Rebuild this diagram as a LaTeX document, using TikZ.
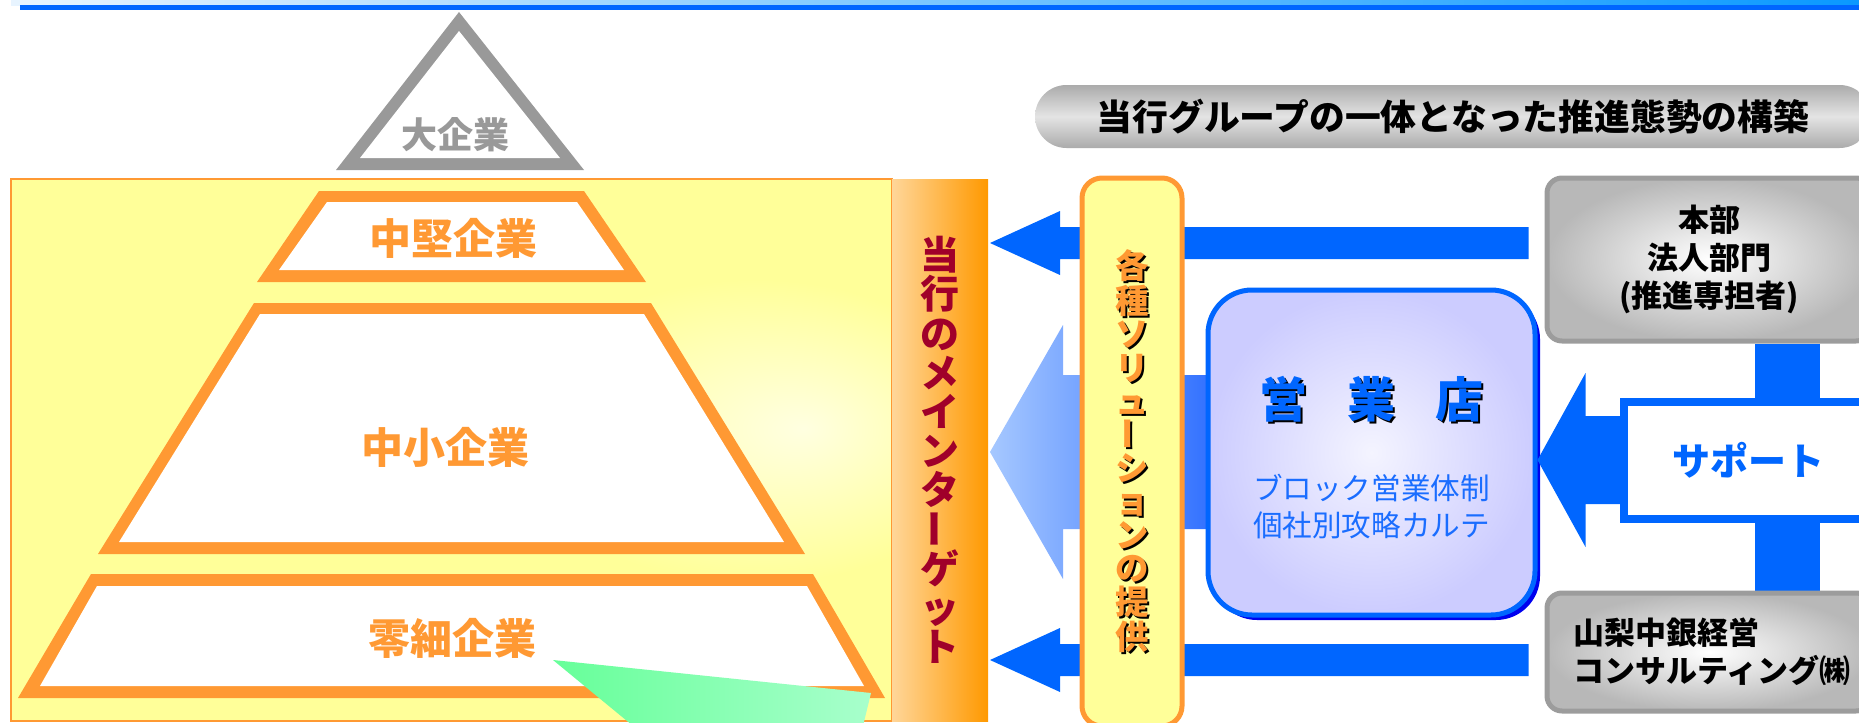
\documentclass[tikz,border=0pt]{standalone}
\usepackage{fontspec}
\setmainfont{Noto Sans CJK JP}
\usetikzlibrary{positioning, calc, shadows}

\definecolor{bandblue}{HTML}{0066FF}
\definecolor{bandlight}{HTML}{E8F4FF}
\definecolor{bandsky}{HTML}{0A99FF}
\definecolor{pyrorange}{HTML}{FF9933}
\definecolor{bigcogray}{HTML}{999999}
\definecolor{paleyellow}{HTML}{FFFF99}
\definecolor{targetred}{HTML}{A0002A}
\definecolor{peach}{HTML}{FFD699}
\definecolor{deeporange}{HTML}{FF9900}
\definecolor{arrowblue}{HTML}{0066FF}
\definecolor{lightarrow}{HTML}{A6C8FF}
\definecolor{midarrow}{HTML}{2A6BFF}
\definecolor{lavender}{HTML}{CCCCFF}
\definecolor{shopglow}{HTML}{F4F4FF}
\definecolor{shopshadow}{HTML}{0000EE}
\definecolor{textblue}{HTML}{1A6DFF}
\definecolor{mint}{HTML}{66FF99}
\definecolor{palemint}{HTML}{A8FFCC}
\definecolor{boxgray}{HTML}{B8B8B8}
\definecolor{edgegray}{HTML}{9C9C9C}
\definecolor{pillgray}{HTML}{ABABAB}
\definecolor{pilllight}{HTML}{E4E4E4}

\pgfdeclareradialshading{yellowglow}{\pgfpoint{20bp}{2bp}}{%
  rgb(0bp)=(1,1,0.88); rgb(14bp)=(1,1,0.6); rgb(100bp)=(1,1,0.6)}

\pgfdeclarelayer{background}
\pgfsetlayers{background,main}

% text with a small black shadow
\newcommand{\shadowed}[1]{\makebox[0pt][l]{\hspace{1pt}\raisebox{-1pt}{\color{black}#1}}#1}
% long vowel mark standing upright in vertical text
\newcommand{\vchoon}{\raisebox{0.15em}{\rotatebox[origin=c]{90}{ー}}}
% flat block arrow: style, tip, tail, shaft half width, head half width, head length
\newcommand{\blockarrow}[6]{%
  \path[#1] (#2) -- ($(#2)+(#6,-#5)$) -- ($(#2)+(#6,-#4)$)
    -- ($(#3|-#2)+(0,-#4)$) -- ($(#3|-#2)+(0,#4)$)
    -- ($(#2)+(#6,#4)$) -- ($(#2)+(#6,#5)$) -- cycle;}

\begin{document}
\begin{tikzpicture}[x=0.5pt, y=-0.5pt,
  tier/.style={font=\fontsize{21pt}{21pt}\selectfont\bfseries, text=pyrorange},
  custarea/.style={draw=pyrorange, line width=1pt, shade, shading=yellowglow,
    inner sep=0pt, minimum width=440.5pt, minimum height=271pt},
  column/.style={left color=peach, right color=deeporange, inner sep=0pt,
    minimum width=48pt, minimum height=271pt, align=center, text=targetred,
    font=\fontsize{19.5pt}{19.6pt}\selectfont\bfseries},
  solbox/.style={fill=paleyellow, draw=pyrorange, line width=2.5pt,
    rounded corners=10pt, inner sep=0pt, minimum width=50pt, minimum height=274pt,
    align=center, text=pyrorange, font=\fontsize{16.7pt}{16.7pt}\selectfont\bfseries},
  shopbox/.style={draw=arrowblue, line width=2.5pt, rounded corners=22pt,
    inner color=shopglow, outer color=lavender, minimum width=163.5pt,
    minimum height=162.5pt, drop shadow={shadow xshift=2.5pt, shadow yshift=-2.5pt,
    fill=shopshadow, opacity=1}},
  graybox/.style={draw=edgegray, line width=2.5pt, rounded corners=7.5pt,
    inner color=white, outer color=boxgray, inner sep=0pt, minimum width=162pt,
    font=\fontsize{15.5pt}{19pt}\selectfont\bfseries},
  supportbox/.style={fill=white, draw=arrowblue, line width=4pt, minimum width=124pt,
    minimum height=58.5pt, text=arrowblue, font=\fontsize{19pt}{19pt}\selectfont\bfseries},
  pill/.style={rounded corners=15.75pt, minimum width=418pt, minimum height=31.5pt,
    top color=pillgray, bottom color=pillgray, middle color=pilllight,
    font=\fontsize{17.9pt}{17.9pt}\selectfont\bfseries}]

  \useasboundingbox (0,0) rectangle (1859,723);
  \clip (0,0) rectangle (1859,723);

  % heading rule
  \shade[left color=bandlight, right color=bandsky] (11,0) rectangle (1859,5);
  \fill[bandblue] (20,5) rectangle (1859,10);

  % customer pyramid
  \node[custarea] (customers) at (451.5,450) {};
  \node[column] (target) at (940,450)
    {当\\行\\の\\メ\\イ\\ン\\タ\\\vchoon\\ゲ\\ッ\\ト};

  \fill[bigcogray] (459,12) -- (584,170) -- (336,170) -- cycle;
  \fill[white] (459,31) -- (560,158) -- (360,158) -- cycle;
  \node[font=\fontsize{18pt}{18pt}\selectfont\bfseries, text=bigcogray] (large) at (455,135) {大企業};

  \fill[pyrorange] (319,191) -- (584,191) -- (646,282) -- (257,282) -- cycle;
  \fill[white] (327,202) -- (577,202) -- (624,270) -- (279,270) -- cycle;
  \node[tier] (midsize) at (453,238) {中堅企業};

  \fill[pyrorange] (254,303) -- (651,303) -- (805,554) -- (98,554) -- cycle;
  \fill[white] (260,314) -- (644,314) -- (784,542) -- (119,542) -- cycle;
  \node[tier] (small) at (445,447) {中小企業};

  \fill[pyrorange] (91,574) -- (813,574) -- (885,698) -- (18,698) -- cycle;
  \fill[white] (97,586) -- (807,586) -- (864,686) -- (40,686) -- cycle;
  \node[tier] (micro) at (452,638) {零細企業};

  \shade[left color=mint, right color=palemint]
    (553,660) -- (871,693) -- (862,730) -- (638,730) -- cycle;

  % group side
  \node[solbox] (solution) at (1132,452)
    {\shadowed{各}\\\shadowed{種}\\\shadowed{ソ}\\\shadowed{リ}\\\shadowed{ュ}\\\shadowed{\vchoon}\\
     \shadowed{シ}\\\shadowed{ョ}\\\shadowed{ン}\\\shadowed{の}\\\shadowed{提}\\\shadowed{供}};

  \node[shopbox] (shop) at (1371.5,452.5) {};
  \node[font=\fontsize{24pt}{24pt}\selectfont\bfseries, text=arrowblue]
    (shopname) at ([yshift=26pt]shop.center)
    {\shadowed{営}\hspace{20pt}\shadowed{業}\hspace{20pt}\shadowed{店}};
  \node[font=\fontsize{14.8pt}{18.5pt}\selectfont, text=textblue, align=center]
    (shopnote) at ([yshift=-27pt]shop.center) {ブロック営業体制\\個社別攻略カルテ};

  \node[graybox, minimum height=81.5pt, align=center] (hq) at (1709,259.5)
    {本部\\法人部門\\(推進専担者)};
  \node[graybox, minimum height=59pt, align=left, text width=136pt] (consult) at (1709,652)
    {山梨中銀経営\\コンサルティング㈱};

  \node[pill] (motto) at (1453,116.5) {当行グループの一体となった推進態勢の構築};

  \node[supportbox] (support) at (1748,460) {サポート};
  \coordinate (tipshop) at (shop.east |- support.center);
  \blockarrow{fill=arrowblue}{tipshop}{support.west}{44}{87}{48}

  \coordinate (tiptop) at (990,243);
  \coordinate (tipmid) at (990,452);
  \coordinate (tipbot) at (990,660);
  \coordinate (tailtop) at ([xshift=-8pt]hq.west);
  \coordinate (tailbot) at ([xshift=-8pt]consult.west);
  \coordinate (tailmid) at ([xshift=10pt]shop.west);

  \begin{pgfonlayer}{background}
    \blockarrow{fill=arrowblue}{tiptop}{tailtop}{16}{32}{70}
    \blockarrow{fill=arrowblue}{tipbot}{tailbot}{16}{32}{70}
    \blockarrow{left color=lightarrow, right color=midarrow}{tipmid}{tailmid}{77}{127}{73}
    \draw[arrowblue, line width=32.5pt] ([xshift=39pt]hq.south) -- ([xshift=39pt]consult.north);
  \end{pgfonlayer}
\end{tikzpicture}
\end{document}
